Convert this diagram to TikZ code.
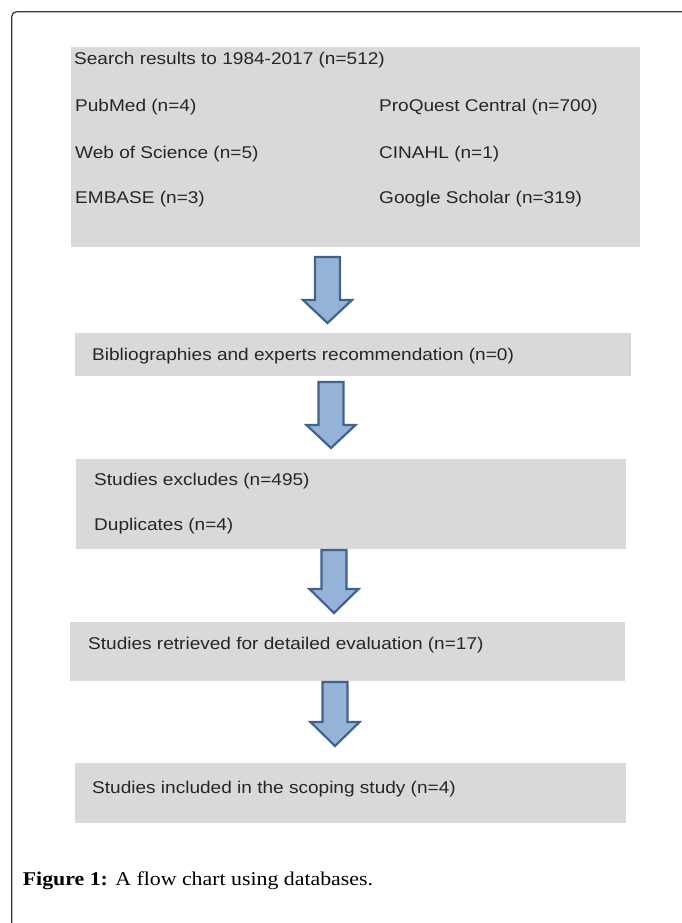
\documentclass[tikz,border=0pt]{standalone}
\usepackage{fontspec}
\setmainfont{Liberation Serif}[FakeStretch=1.12]
\newfontfamily\boxfont{Liberation Sans}[FakeStretch=1.12]
\definecolor{boxgray}{HTML}{D9D9D9}
\definecolor{arrowfill}{HTML}{95B3D7}
\definecolor{arrowline}{HTML}{41618F}
\definecolor{framecol}{HTML}{3A3A3A}
\tikzset{
  graybox/.style={fill=boxgray, draw=none, inner sep=0pt, anchor=north west},
  boxtext/.style={anchor=base west, inner sep=0pt, font=\boxfont\fontsize{17}{20}\selectfont, text=black!85},
  flowarrow/.style={fill=arrowfill, draw=arrowline, line width=2.2pt, line join=miter},
}
\newcommand\flowarrowat[4]{%
  \draw[flowarrow] (#1-12.5,#2) -- (#1+12.5,#2) -- (#1+12.5,#3) -- (#1+24.5,#3)
    -- (#1,#4) -- (#1-24.5,#3) -- (#1-12.5,#3) -- cycle;}
\begin{document}
\begin{tikzpicture}[x=1pt,y=-1pt]
\useasboundingbox[fill=white] (0,0) rectangle (681,923);
% frame
\draw[framecol, line width=1.3pt, rounded corners=5pt] (11.7,940) -- (11.7,11.7) -- (700,11.7);
% boxes
\node[graybox, minimum width=569pt, minimum height=200pt] (b1) at (71,47) {};
\node[graybox, minimum width=556pt, minimum height=43pt] (b2) at (75,333) {};
\node[graybox, minimum width=550pt, minimum height=90pt] (b3) at (76,459) {};
\node[graybox, minimum width=555.5pt, minimum height=59pt] (b4) at (69.5,622) {};
\node[graybox, minimum width=551.5pt, minimum height=60pt] (b5) at (74.5,763) {};
% texts
\node[boxtext] (t1) at (74,65) {Search results to 1984-2017 (n=512)};
\node[boxtext] (t2) at (75,112) {PubMed (n=4)};
\node[boxtext] (t3) at (379,112) {ProQuest Central (n=700)};
\node[boxtext] (t4) at (75,158) {Web of Science (n=5)};
\node[boxtext] (t5) at (379,158) {CINAHL (n=1)};
\node[boxtext] (t6) at (75,203) {EMBASE (n=3)};
\node[boxtext] (t7) at (379,203) {Google Scholar (n=319)};
\node[boxtext] (t8) at (92,360) {Bibliographies and experts recommendation (n=0)};
\node[boxtext] (t9) at (94,485) {Studies excludes (n=495)};
\node[boxtext] (t10) at (94,530) {Duplicates (n=4)};
\node[boxtext] (t11) at (88,649) {Studies retrieved for detailed evaluation (n=17)};
\node[boxtext] (t12) at (92,793) {Studies included in the scoping study (n=4)};
% arrows
\flowarrowat{327.5}{257}{300}{323}
\flowarrowat{331}{382}{425}{448}
\flowarrowat{334}{550}{589}{613}
\flowarrowat{335}{682}{722}{746}
% caption
\node[anchor=base west, inner sep=0pt, font=\fontsize{19.5}{22}\selectfont] (cap) at (22.7,885) {\textbf{Figure 1:} A flow chart using databases.};
\end{tikzpicture}
\end{document}
